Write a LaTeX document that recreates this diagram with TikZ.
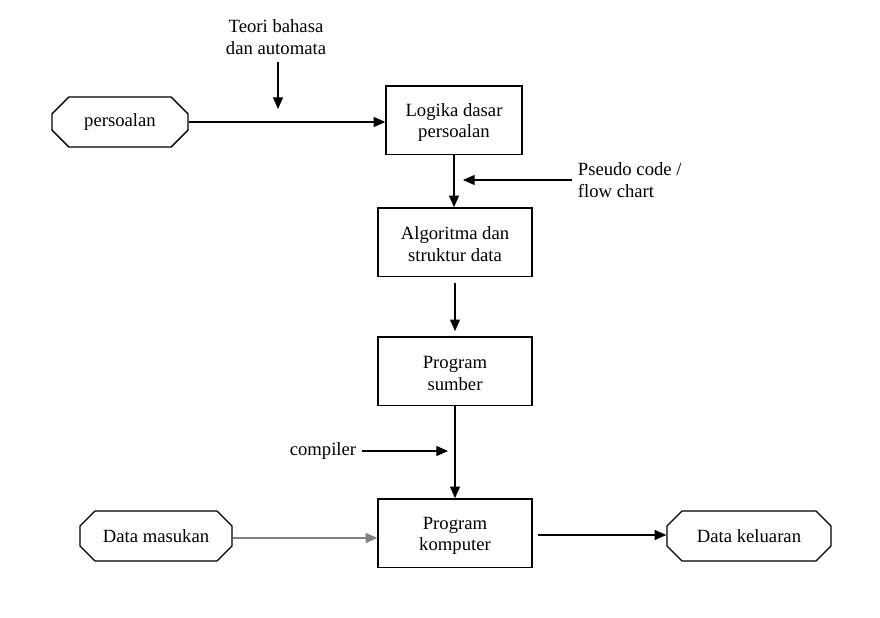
\documentclass[tikz,border=0pt]{standalone}
\usepackage{fontspec}
\setmainfont{Liberation Serif}
\usetikzlibrary{arrows.meta,shapes.misc}

\begin{document}
\begin{tikzpicture}[x=0.6pt,y=-0.6pt,
    every node/.style={font=\fontsize{11.2}{12.8}\selectfont,align=center},
    procbox/.style={rectangle,draw,line width=0.8pt,minimum width=92.4pt,minimum height=41pt,inner sep=2pt,text height=23.3pt},
    termbox/.style={chamfered rectangle,chamfered rectangle xsep=9pt,draw,line width=0.8pt,minimum height=30pt,inner sep=2pt},
    flow/.style={line width=0.7pt,-{Triangle[length=7pt,width=6pt]}}]

    \useasboundingbox (0,0) rectangle (880,617);

    % kotak-kotak proses
    \node [procbox, minimum width=81.6pt] (logika)    at (454,120) {Logika dasar\\persoalan};
    \node [procbox]                       (algoritma) at (455,242) {Algoritma dan\\struktur data};
    \node [procbox]                       (sumber)    at (455,371) {Program\\sumber};
    \node [procbox]                       (komputer)  at (455,533) {Program\\komputer};

    % masukan / keluaran
    \node [termbox, minimum width=81.6pt] (persoalan) at (120,122) {persoalan};
    \node [termbox, minimum width=91.2pt] (masukan)   at (156,536) {Data masukan};
    \node [termbox, minimum width=98.4pt] (keluaran)  at (749,536) {Data keluaran};

    % keterangan
    \node (teori)    at (276,37)  {Teori bahasa\\dan automata};
    \node [anchor=west, align=left] (pseudo) at (572,180) {Pseudo code /\\flow chart};
    \node (compiler) at (323,451) {compiler};

    \coordinate (teoriA) at (278,62);
    \coordinate (teoriB) at (278,109);
    \coordinate (pseudoB) at (463,180);
    \coordinate (compB) at (448,451);

    % panah utama
    \draw [flow] (persoalan.east |- 0,122) -- (logika.west |- 0,122);
    \draw [flow] (logika.south) -- (logika.south |- algoritma.north);
    \draw [flow, shorten <=3.6pt, shorten >=3pt] (algoritma.south) -- (sumber.north);
    \draw [flow] (sumber.south) -- (komputer.north);
    \draw [flow, draw=gray] (masukan.east |- 0,538) -- (komputer.west |- 0,538);
    \draw [flow, shorten <=3pt] (komputer.east |- 0,535) -- (keluaran.west |- 0,535);

    % panah keterangan
    \draw [flow] (teoriA) -- (teoriB);
    \draw [flow] (pseudo.west |- pseudoB) -- (pseudoB);
    \draw [flow] (compiler.east |- compB) -- (compB);

\end{tikzpicture}
\end{document}
